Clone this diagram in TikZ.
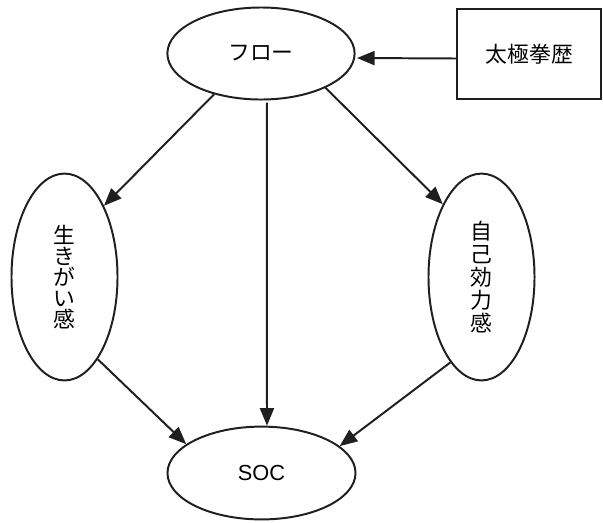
\documentclass[tikz,border=0pt]{standalone}
\usepackage{fontspec}
\setmainfont{Noto Sans CJK JP}
\newfontfamily\latinsans{Liberation Sans}
\usetikzlibrary{shapes.geometric,arrows.meta}
\tikzset{
  oval/.style={ellipse,draw=black!88,line width=1.4pt,inner sep=0pt},
  boxnode/.style={rectangle,draw=black!88,line width=1.4pt,inner sep=0pt},
  arr/.style={draw=black!88,line width=1.4pt,-{Triangle[length=12.5pt,width=10pt]}},
  jp/.style={font=\fontsize{15.5}{15.5}\selectfont}
}
\begin{document}
\begin{tikzpicture}[x=0.025cm,y=-0.025cm]
\useasboundingbox (0,0) rectangle (603,522);
\node[oval,jp,minimum width=4.68cm,minimum height=2.3cm] (flow) at (261,53.5) {\raisebox{-2.8pt}{フロー}};
\node[boxnode,jp,minimum width=3.6cm,minimum height=2.23cm] (taiji) at (529.3,54) {太極拳歴};
\node[oval,minimum width=2.65cm,minimum height=5.17cm,align=center,font=\fontsize{15.5}{15}\selectfont] (gen) at (64.5,277) {生\\き\\が\\い\\感};
\node[oval,minimum width=2.65cm,minimum height=5.17cm,align=center,font=\fontsize{15.5}{16.5}\selectfont] (self) at (481.5,277) {自\\己\\効\\力\\感};
\node[oval,minimum width=4.7cm,minimum height=2.32cm,font=\latinsans\fontsize{15.5}{15.5}\selectfont] (soc) at (261.5,473) {SOC};
\draw[arr] ([yshift=-3.2pt]taiji.west) -- ([yshift=-3.2pt,xshift=1pt]flow.east);
\draw[arr] (flow.-139.8) -- (gen.61.3);
\draw[arr] (flow.-28.6) -- (self.118.7);
\draw[arr] ([xshift=4.2pt,yshift=-1.5pt]flow.south) -- ([xshift=3.9pt]soc.north);
\draw[arr] (gen.-68) -- (soc.159.7);
\draw[arr] (self.-110) -- (soc.19.4);
\end{tikzpicture}
\end{document}
